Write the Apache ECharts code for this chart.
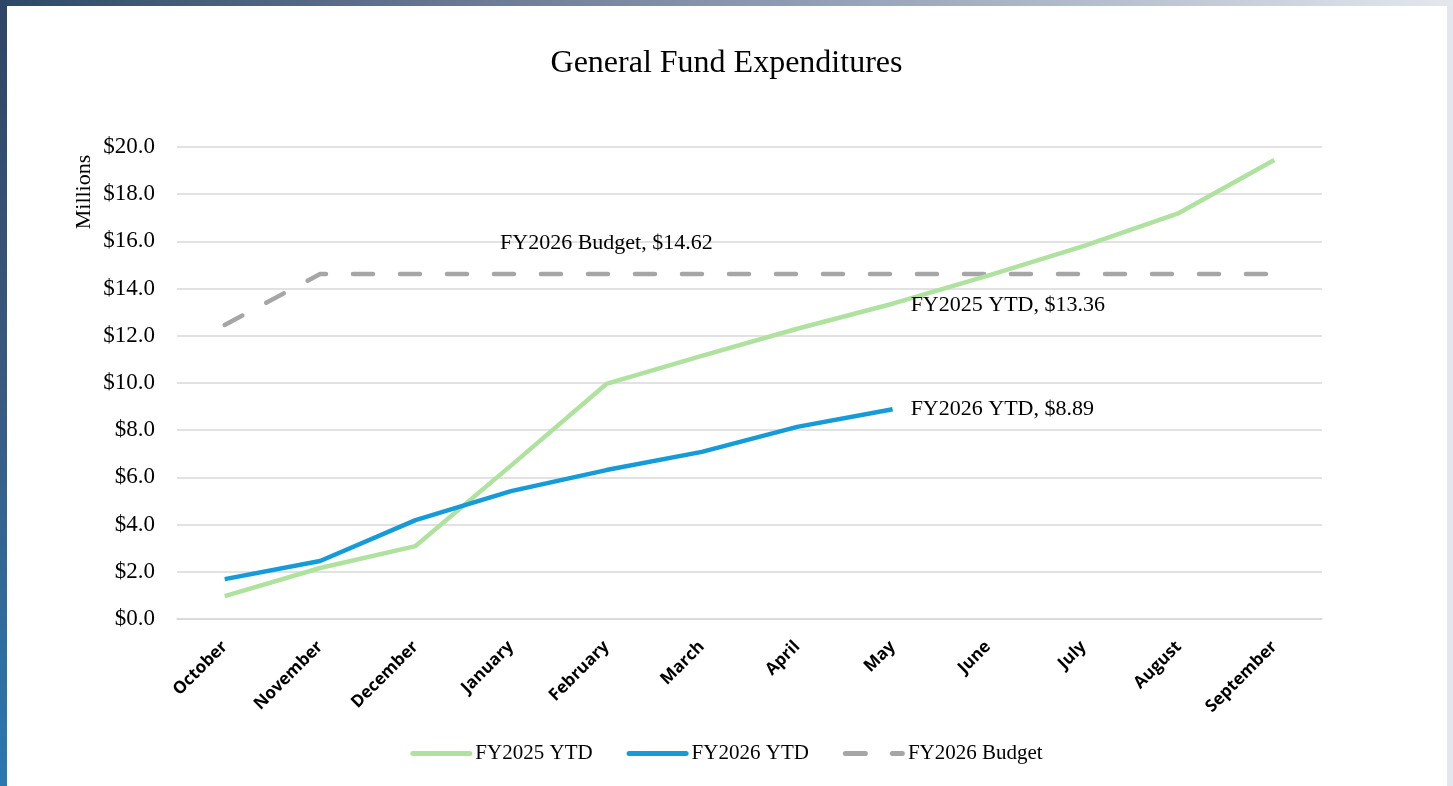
<!DOCTYPE html>
<html><head><meta charset="utf-8">
<script src="https://cdn.jsdelivr.net/npm/echarts@6/dist/echarts.min.js"></script>
<style>
html,body{margin:0;padding:0;width:1453px;height:786px;overflow:hidden;background:#fff;}
#topband{position:absolute;left:0;top:0;width:1453px;height:6px;background:linear-gradient(to right,#2e4868,#66768f 30%,#aab5c6 70%,#e4e7ee);}
#leftband{position:absolute;left:0;top:0;width:7px;height:786px;background:linear-gradient(to bottom,#2f4566,#3a5a80 50%,#2a78b0);}
#rightband{position:absolute;left:1447px;top:6px;width:6px;height:780px;background:#e3e7ed;}
#chart{position:absolute;left:0;top:0;width:1453px;height:786px;}
</style></head>
<body>
<div id="chart"></div>
<div id="topband"></div><div id="leftband"></div><div id="rightband"></div>
<script>
const months = ['October','November','December','January','February','March','April','May','June','July','August','September'];
const fy2025 = [0.97, 2.16, 3.09, 6.5, 9.96, 11.15, 12.3, 13.36, 14.55, 15.8, 17.2, 19.45];
const fy2026 = [1.69, 2.46, 4.19, 5.42, 6.31, 7.08, 8.14, 8.89];
const budget = [12.46, 14.62, 14.62, 14.62, 14.62, 14.62, 14.62, 14.62, 14.62, 14.62, 14.62, 14.62];
const yTicks = {min: 0, max: 20, interval: 2};

const serif = '"Liberation Serif", "DejaVu Serif", serif';
const chart = echarts.init(document.getElementById('chart'));

function withLabel(arr, idx, label) {
  return arr.map((v, i) => i === idx ? Object.assign({value: v}, label) : v);
}
const labelText = {fontFamily: serif, fontSize: 22, color: '#000'};

chart.setOption({
  backgroundColor: '#fff',
  animation: false,
  title: {text: 'General Fund Expenditures', left: 'center', top: 43,
    textStyle: {fontFamily: serif, fontSize: 32, fontWeight: 'normal', color: '#000'}},
  grid: {left: 177, right: 131, top: 147, bottom: 167, containLabel: false},
  legend: {top: 738, left: 'center', itemWidth: 62, itemHeight: 5, itemGap: 34,
    textStyle: {fontFamily: serif, fontSize: 21, color: '#000', padding: [0,0,0,-2]},
    data: [
      {name: 'FY2025 YTD', icon: 'path://M2.5,0H59.5A2.5,2.5,0,0,1,59.5,5H2.5A2.5,2.5,0,0,1,2.5,0Z'},
      {name: 'FY2026 YTD', icon: 'path://M2.5,0H59.5A2.5,2.5,0,0,1,59.5,5H2.5A2.5,2.5,0,0,1,2.5,0Z'},
      {name: 'FY2026 Budget', icon: 'path://M2.5,0H22.5A2.5,2.5,0,0,1,22.5,5H2.5A2.5,2.5,0,0,1,2.5,0Z M49.5,0H59.5A2.5,2.5,0,0,1,59.5,5H49.5A2.5,2.5,0,0,1,49.5,0Z'}
    ]},
  graphic: [{type: 'text', x: 84, y: 192, rotation: Math.PI/2,
    style: {text: 'Millions', font: '22px ' + serif, fill: '#000', align: 'center', verticalAlign: 'middle'}}],
  xAxis: {type: 'category', data: months, boundaryGap: true,
    axisLine: {show: true, lineStyle: {color: '#d9d9d9', width: 1.5}}, axisTick: {show: false},
    axisLabel: {rotate: 45, margin: 25, fontFamily: '"Open Sans", "Liberation Sans", sans-serif', fontWeight: 'bold', fontSize: 17, color: '#000', interval: 0}},
  yAxis: {type: 'value', min: yTicks.min, max: yTicks.max, interval: yTicks.interval,
    axisLine: {show: false}, axisTick: {show: false},
    splitLine: {lineStyle: {color: '#d9d9d9', width: 1.5}},
    axisLabel: {margin: 22, fontFamily: serif, fontSize: 23, color: '#000',
      formatter: v => '$' + v.toFixed(1)}},
  series: [
    {name: 'FY2025 YTD', type: 'line', symbol: 'circle', symbolSize: 0, showSymbol: true, z: 3,
      lineStyle: {color: '#aee29e', width: 4.5}, itemStyle: {color: '#aee29e'},
      emphasis: {disabled: true},
      data: withLabel(fy2025, 7, {label: Object.assign({show: true, position: 'right', distance: 18, offset: [0, 2],
        formatter: 'FY2025 YTD, $13.36'}, labelText)})},
    {name: 'FY2026 YTD', type: 'line', symbol: 'circle', symbolSize: 0, showSymbol: true, z: 4,
      lineStyle: {color: '#159bd7', width: 4.5}, itemStyle: {color: '#159bd7'},
      emphasis: {disabled: true},
      data: withLabel(fy2026, 7, {label: Object.assign({show: true, position: 'right', distance: 18,
        formatter: 'FY2026 YTD, $8.89'}, labelText)})},
    {name: 'FY2026 Budget', type: 'line', symbol: 'circle', symbolSize: 0, showSymbol: true, z: 2,
      lineStyle: {color: '#a6a6a6', width: 4.5, type: [20, 27], cap: 'round'}, itemStyle: {color: '#a6a6a6'},
      emphasis: {disabled: true},
      data: withLabel(budget, 4, {label: Object.assign({show: true, position: 'top', distance: 20,
        formatter: 'FY2026 Budget, $14.62'}, labelText)})}
  ]
});
</script>
</body></html>
